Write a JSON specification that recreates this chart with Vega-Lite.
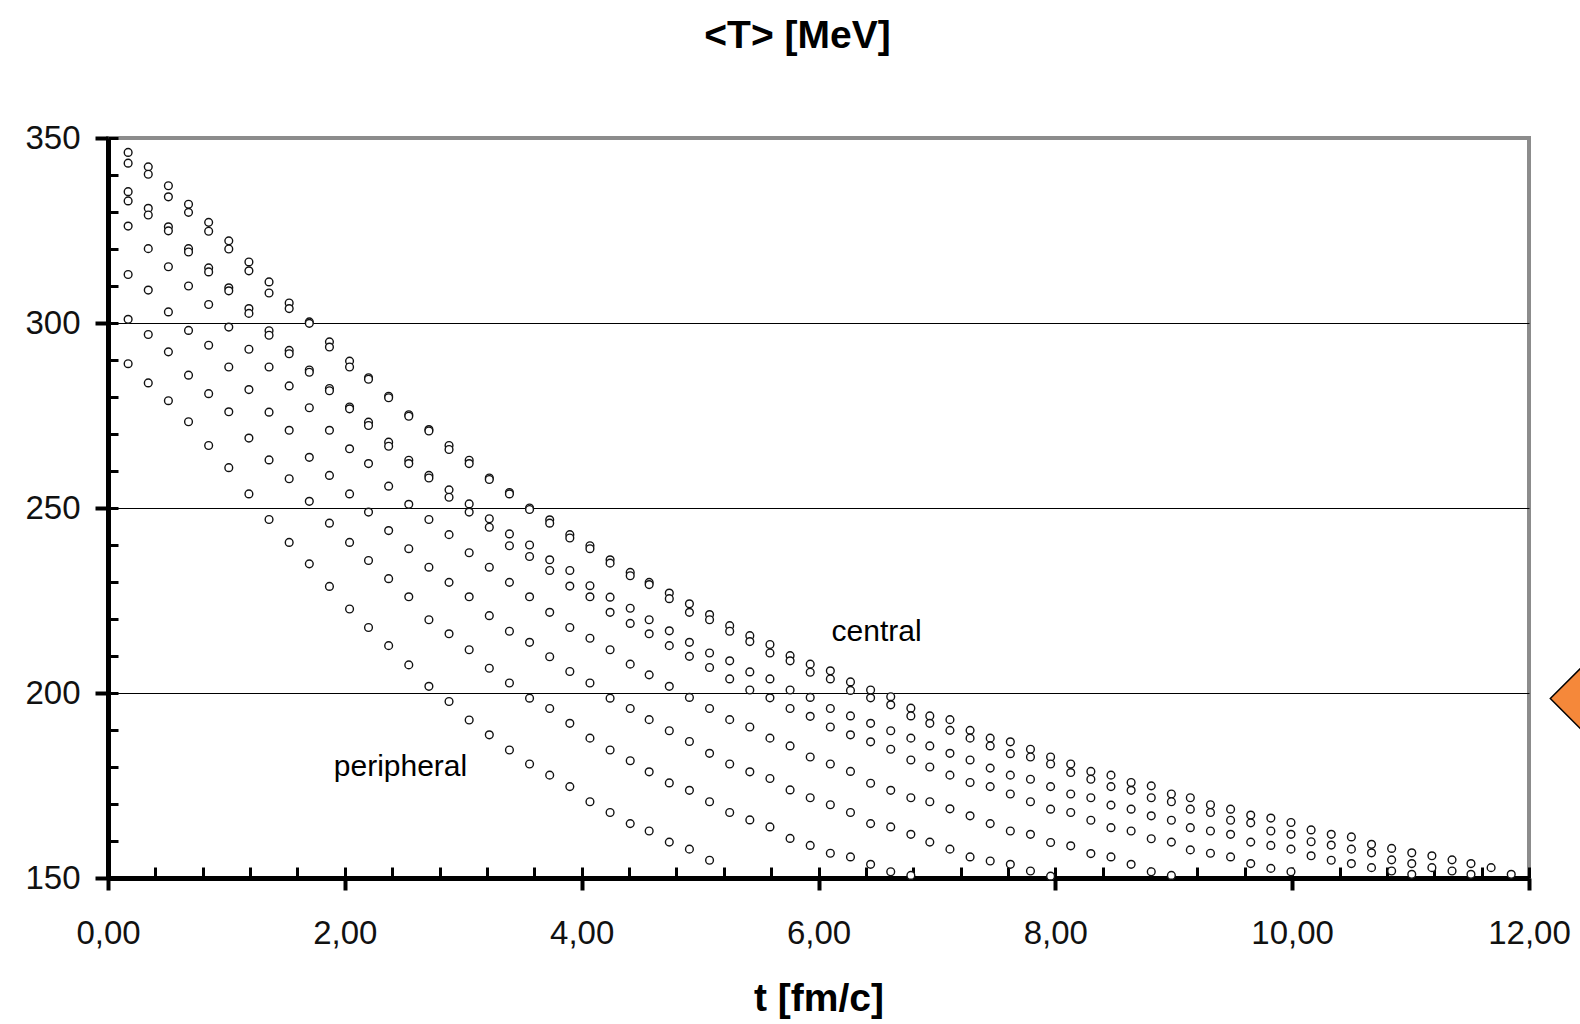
{
"$schema":"https://vega.github.io/schema/vega-lite/v6.json",
"width":1421,"height":740,
"autosize":{"type":"none"},
"padding":{"left":108,"top":138,"right":51,"bottom":146},
"background":"white",
"config":{"view":{"stroke":"#8c8c8c","strokeWidth":4},"font":"Liberation Sans"},
"title":{"text":"<T> [MeV]","font":"Liberation Sans","fontSize":39,"fontWeight":"bold","color":"#000","anchor":"middle","dx":-21,"offset":35,"baseline":"alphabetic"},
"datasets":{
"pts":[
{"t":0.17,"T":346.1},{"t":0.17,"T":343.2},{"t":0.17,"T":335.5},{"t":0.17,"T":333.0},{"t":0.17,"T":326.2},{"t":0.17,"T":313.1},{"t":0.17,"T":301.0},{"t":0.17,"T":289.0},
{"t":0.34,"T":342.2},{"t":0.34,"T":340.2},{"t":0.34,"T":331.0},{"t":0.34,"T":329.2},{"t":0.34,"T":320.1},{"t":0.34,"T":308.9},{"t":0.34,"T":296.9},{"t":0.34,"T":283.8},
{"t":0.51,"T":337.1},{"t":0.51,"T":334.1},{"t":0.51,"T":326.0},{"t":0.51,"T":324.9},{"t":0.51,"T":315.2},{"t":0.51,"T":303.0},{"t":0.51,"T":292.2},{"t":0.51,"T":279.0},
{"t":0.68,"T":332.1},{"t":0.68,"T":329.9},{"t":0.68,"T":320.1},{"t":0.68,"T":319.2},{"t":0.68,"T":310.0},{"t":0.68,"T":298.0},{"t":0.68,"T":285.9},{"t":0.68,"T":273.3},
{"t":0.85,"T":327.2},{"t":0.85,"T":324.8},{"t":0.85,"T":314.9},{"t":0.85,"T":313.8},{"t":0.85,"T":305.0},{"t":0.85,"T":294.0},{"t":0.85,"T":280.9},{"t":0.85,"T":266.9},
{"t":1.02,"T":322.2},{"t":1.02,"T":320.0},{"t":1.02,"T":309.5},{"t":1.02,"T":308.7},{"t":1.02,"T":298.9},{"t":1.02,"T":288.1},{"t":1.02,"T":276.0},{"t":1.02,"T":260.9},
{"t":1.19,"T":316.5},{"t":1.19,"T":314.1},{"t":1.19,"T":303.9},{"t":1.19,"T":302.6},{"t":1.19,"T":292.9},{"t":1.19,"T":282.0},{"t":1.19,"T":268.9},{"t":1.19,"T":253.8},
{"t":1.36,"T":311.1},{"t":1.36,"T":308.1},{"t":1.36,"T":297.9},{"t":1.36,"T":296.7},{"t":1.36,"T":288.1},{"t":1.36,"T":275.9},{"t":1.36,"T":263.0},{"t":1.36,"T":246.9},
{"t":1.53,"T":305.4},{"t":1.53,"T":303.9},{"t":1.53,"T":292.6},{"t":1.53,"T":291.7},{"t":1.53,"T":283.0},{"t":1.53,"T":271.0},{"t":1.53,"T":257.9},{"t":1.53,"T":240.7},
{"t":1.70,"T":300.3},{"t":1.70,"T":299.9},{"t":1.70,"T":287.3},{"t":1.70,"T":286.7},{"t":1.70,"T":277.1},{"t":1.70,"T":263.7},{"t":1.70,"T":251.8},{"t":1.70,"T":234.9},
{"t":1.87,"T":294.9},{"t":1.87,"T":293.5},{"t":1.87,"T":282.3},{"t":1.87,"T":281.7},{"t":1.87,"T":271.0},{"t":1.87,"T":258.8},{"t":1.87,"T":245.9},{"t":1.87,"T":228.8},
{"t":2.04,"T":289.7},{"t":2.04,"T":288.1},{"t":2.04,"T":277.3},{"t":2.04,"T":276.8},{"t":2.04,"T":266.0},{"t":2.04,"T":253.8},{"t":2.04,"T":240.7},{"t":2.04,"T":222.7},
{"t":2.20,"T":285.2},{"t":2.20,"T":284.8},{"t":2.20,"T":273.2},{"t":2.20,"T":272.3},{"t":2.20,"T":262.0},{"t":2.20,"T":248.9},{"t":2.20,"T":235.8},{"t":2.20,"T":217.7},
{"t":2.37,"T":280.2},{"t":2.37,"T":279.8},{"t":2.37,"T":267.8},{"t":2.37,"T":266.7},{"t":2.37,"T":255.9},{"t":2.37,"T":243.9},{"t":2.37,"T":230.9},{"t":2.37,"T":212.8},
{"t":2.54,"T":275.2},{"t":2.54,"T":274.8},{"t":2.54,"T":262.9},{"t":2.54,"T":262.0},{"t":2.54,"T":251.0},{"t":2.54,"T":239.0},{"t":2.54,"T":226.0},{"t":2.54,"T":207.6},
{"t":2.71,"T":271.2},{"t":2.71,"T":270.8},{"t":2.71,"T":258.8},{"t":2.71,"T":258.1},{"t":2.71,"T":246.9},{"t":2.71,"T":234.0},{"t":2.71,"T":219.8},{"t":2.71,"T":201.8},
{"t":2.88,"T":266.9},{"t":2.88,"T":265.8},{"t":2.88,"T":254.9},{"t":2.88,"T":252.9},{"t":2.88,"T":242.8},{"t":2.88,"T":229.9},{"t":2.88,"T":216.0},{"t":2.88,"T":197.7},
{"t":3.05,"T":262.9},{"t":3.05,"T":262.0},{"t":3.05,"T":251.1},{"t":3.05,"T":248.9},{"t":3.05,"T":237.9},{"t":3.05,"T":226.0},{"t":3.05,"T":211.7},{"t":3.05,"T":192.7},
{"t":3.22,"T":258.1},{"t":3.22,"T":257.7},{"t":3.22,"T":247.1},{"t":3.22,"T":244.8},{"t":3.22,"T":234.0},{"t":3.22,"T":220.9},{"t":3.22,"T":206.7},{"t":3.22,"T":188.7},
{"t":3.39,"T":254.2},{"t":3.39,"T":253.8},{"t":3.39,"T":243.0},{"t":3.39,"T":239.8},{"t":3.39,"T":229.9},{"t":3.39,"T":216.7},{"t":3.39,"T":202.7},{"t":3.39,"T":184.6},
{"t":3.56,"T":250.0},{"t":3.56,"T":249.6},{"t":3.56,"T":240.0},{"t":3.56,"T":236.9},{"t":3.56,"T":226.0},{"t":3.56,"T":213.7},{"t":3.56,"T":198.6},{"t":3.56,"T":180.8},
{"t":3.73,"T":246.8},{"t":3.73,"T":245.9},{"t":3.73,"T":236.0},{"t":3.73,"T":233.1},{"t":3.73,"T":221.8},{"t":3.73,"T":209.8},{"t":3.73,"T":195.8},{"t":3.73,"T":177.8},
{"t":3.90,"T":242.8},{"t":3.90,"T":241.9},{"t":3.90,"T":233.1},{"t":3.90,"T":228.9},{"t":3.90,"T":217.7},{"t":3.90,"T":205.8},{"t":3.90,"T":191.8},{"t":3.90,"T":174.7},
{"t":4.07,"T":239.8},{"t":4.07,"T":239.0},{"t":4.07,"T":229.0},{"t":4.07,"T":226.0},{"t":4.07,"T":214.8},{"t":4.07,"T":202.7},{"t":4.07,"T":187.8},{"t":4.07,"T":170.6},
{"t":4.24,"T":236.0},{"t":4.24,"T":235.1},{"t":4.24,"T":225.9},{"t":4.24,"T":221.8},{"t":4.24,"T":211.7},{"t":4.24,"T":198.6},{"t":4.24,"T":184.6},{"t":4.24,"T":167.7},
{"t":4.41,"T":232.6},{"t":4.41,"T":231.7},{"t":4.41,"T":222.9},{"t":4.41,"T":218.8},{"t":4.41,"T":207.8},{"t":4.41,"T":195.8},{"t":4.41,"T":181.7},{"t":4.41,"T":164.7},
{"t":4.57,"T":229.9},{"t":4.57,"T":229.3},{"t":4.57,"T":219.8},{"t":4.57,"T":216.0},{"t":4.57,"T":204.9},{"t":4.57,"T":192.8},{"t":4.57,"T":178.7},{"t":4.57,"T":162.7},
{"t":4.74,"T":227.0},{"t":4.74,"T":225.5},{"t":4.74,"T":216.8},{"t":4.74,"T":212.8},{"t":4.74,"T":201.8},{"t":4.74,"T":189.8},{"t":4.74,"T":175.7},{"t":4.74,"T":159.7},
{"t":4.91,"T":224.1},{"t":4.91,"T":221.8},{"t":4.91,"T":213.7},{"t":4.91,"T":209.9},{"t":4.91,"T":198.8},{"t":4.91,"T":186.9},{"t":4.91,"T":173.7},{"t":4.91,"T":157.8},
{"t":5.08,"T":221.2},{"t":5.08,"T":219.8},{"t":5.08,"T":210.8},{"t":5.08,"T":206.9},{"t":5.08,"T":195.8},{"t":5.08,"T":183.7},{"t":5.08,"T":170.6},{"t":5.08,"T":154.8},
{"t":5.25,"T":218.2},{"t":5.25,"T":216.7},{"t":5.25,"T":208.7},{"t":5.25,"T":203.8},{"t":5.25,"T":192.8},{"t":5.25,"T":180.8},{"t":5.25,"T":167.7},
{"t":5.42,"T":215.5},{"t":5.42,"T":213.9},{"t":5.42,"T":205.7},{"t":5.42,"T":200.8},{"t":5.42,"T":190.8},{"t":5.42,"T":178.7},{"t":5.42,"T":165.7},
{"t":5.59,"T":213.1},{"t":5.59,"T":210.8},{"t":5.59,"T":203.8},{"t":5.59,"T":198.7},{"t":5.59,"T":187.8},{"t":5.59,"T":176.9},{"t":5.59,"T":163.8},
{"t":5.76,"T":210.1},{"t":5.76,"T":208.7},{"t":5.76,"T":200.8},{"t":5.76,"T":195.8},{"t":5.76,"T":185.7},{"t":5.76,"T":173.8},{"t":5.76,"T":160.7},
{"t":5.93,"T":207.8},{"t":5.93,"T":205.6},{"t":5.93,"T":198.8},{"t":5.93,"T":193.7},{"t":5.93,"T":182.7},{"t":5.93,"T":171.7},{"t":5.93,"T":158.8},
{"t":6.10,"T":206.0},{"t":6.10,"T":203.8},{"t":6.10,"T":195.8},{"t":6.10,"T":190.8},{"t":6.10,"T":180.8},{"t":6.10,"T":169.8},{"t":6.10,"T":156.7},
{"t":6.27,"T":203.0},{"t":6.27,"T":200.7},{"t":6.27,"T":193.8},{"t":6.27,"T":188.7},{"t":6.27,"T":178.8},{"t":6.27,"T":167.7},{"t":6.27,"T":155.7},
{"t":6.44,"T":200.8},{"t":6.44,"T":198.7},{"t":6.44,"T":191.8},{"t":6.44,"T":186.8},{"t":6.44,"T":175.6},{"t":6.44,"T":164.7},{"t":6.44,"T":153.7},
{"t":6.61,"T":199.0},{"t":6.61,"T":196.8},{"t":6.61,"T":189.8},{"t":6.61,"T":184.8},{"t":6.61,"T":173.7},{"t":6.61,"T":163.8},{"t":6.61,"T":151.7},
{"t":6.78,"T":195.9},{"t":6.78,"T":193.8},{"t":6.78,"T":187.8},{"t":6.78,"T":181.9},{"t":6.78,"T":171.7},{"t":6.78,"T":161.8},{"t":6.78,"T":150.7},
{"t":6.94,"T":193.8},{"t":6.94,"T":191.8},{"t":6.94,"T":185.7},{"t":6.94,"T":180.0},{"t":6.94,"T":170.6},{"t":6.94,"T":159.7},
{"t":7.11,"T":192.8},{"t":7.11,"T":189.9},{"t":7.11,"T":183.7},{"t":7.11,"T":177.8},{"t":7.11,"T":168.7},{"t":7.11,"T":157.8},
{"t":7.28,"T":189.9},{"t":7.28,"T":187.8},{"t":7.28,"T":181.9},{"t":7.28,"T":175.8},{"t":7.28,"T":166.8},{"t":7.28,"T":155.7},
{"t":7.45,"T":187.8},{"t":7.45,"T":185.7},{"t":7.45,"T":179.7},{"t":7.45,"T":174.7},{"t":7.45,"T":164.7},{"t":7.45,"T":154.6},
{"t":7.62,"T":186.8},{"t":7.62,"T":183.6},{"t":7.62,"T":177.8},{"t":7.62,"T":172.7},{"t":7.62,"T":162.7},{"t":7.62,"T":153.7},
{"t":7.79,"T":184.8},{"t":7.79,"T":182.7},{"t":7.79,"T":176.7},{"t":7.79,"T":170.6},{"t":7.79,"T":161.8},{"t":7.79,"T":151.9},
{"t":7.96,"T":182.7},{"t":7.96,"T":180.8},{"t":7.96,"T":174.7},{"t":7.96,"T":168.6},{"t":7.96,"T":159.6},{"t":7.96,"T":150.5},
{"t":8.13,"T":180.8},{"t":8.13,"T":178.5},{"t":8.13,"T":172.7},{"t":8.13,"T":167.7},{"t":8.13,"T":158.7},
{"t":8.30,"T":178.8},{"t":8.30,"T":176.7},{"t":8.30,"T":171.7},{"t":8.30,"T":165.6},{"t":8.30,"T":156.6},
{"t":8.47,"T":177.8},{"t":8.47,"T":174.7},{"t":8.47,"T":169.7},{"t":8.47,"T":163.6},{"t":8.47,"T":155.7},
{"t":8.64,"T":175.8},{"t":8.64,"T":173.7},{"t":8.64,"T":168.6},{"t":8.64,"T":162.7},{"t":8.64,"T":153.7},
{"t":8.81,"T":174.9},{"t":8.81,"T":171.7},{"t":8.81,"T":166.8},{"t":8.81,"T":160.6},{"t":8.81,"T":151.7},
{"t":8.98,"T":172.7},{"t":8.98,"T":170.6},{"t":8.98,"T":165.6},{"t":8.98,"T":159.7},{"t":8.98,"T":150.7},
{"t":9.14,"T":171.7},{"t":9.14,"T":168.6},{"t":9.14,"T":163.6},{"t":9.14,"T":157.6},
{"t":9.31,"T":169.8},{"t":9.31,"T":167.7},{"t":9.31,"T":162.7},{"t":9.31,"T":156.7},
{"t":9.48,"T":168.6},{"t":9.48,"T":165.6},{"t":9.48,"T":161.8},{"t":9.48,"T":155.7},
{"t":9.65,"T":167.0},{"t":9.65,"T":164.9},{"t":9.65,"T":159.7},{"t":9.65,"T":153.9},
{"t":9.82,"T":166.2},{"t":9.82,"T":162.7},{"t":9.82,"T":158.8},{"t":9.82,"T":152.6},
{"t":9.99,"T":165.0},{"t":9.99,"T":161.8},{"t":9.99,"T":157.8},{"t":9.99,"T":151.7},
{"t":10.16,"T":163.0},{"t":10.16,"T":159.8},{"t":10.16,"T":156.0},
{"t":10.33,"T":161.8},{"t":10.33,"T":158.9},{"t":10.33,"T":154.8},
{"t":10.50,"T":161.1},{"t":10.50,"T":157.8},{"t":10.50,"T":153.9},
{"t":10.67,"T":159.1},{"t":10.67,"T":156.8},{"t":10.67,"T":152.8},
{"t":10.84,"T":158.0},{"t":10.84,"T":154.9},{"t":10.84,"T":151.9},
{"t":11.01,"T":156.8},{"t":11.01,"T":153.9},{"t":11.01,"T":151.0},
{"t":11.18,"T":156.0},{"t":11.18,"T":152.8},
{"t":11.35,"T":154.9},{"t":11.35,"T":151.9},
{"t":11.51,"T":153.9},{"t":11.51,"T":151.0},
{"t":11.68,"T":152.8},
{"t":11.85,"T":151.0}
],
"labels":[{"t":6.49,"T":216.6,"label":"central"},{"t":2.47,"T":179.9,"label":"peripheral"}],
"arrow":[{"t":12.18,"T":198.5}]
},
"layer":[
{
"data":{"name":"pts"},
"mark":{"type":"point","opacity":0},
"encoding":{
"x":{"field":"t","type":"quantitative","scale":{"domain":[0,12],"nice":false,"zero":false},
 "axis":{"orient":"bottom","values":[0,0.4,0.8,1.2,1.6,2,2.4,2.8,3.2,3.6,4,4.4,4.8,5.2,5.6,6,6.4,6.8,7.2,7.6,8,8.4,8.8,9.2,9.6,10,10.4,10.8,11.2,11.6,12],
 "domain":false,"labels":false,"grid":false,"title":null,"ticks":true,"tickSize":-11,"tickWidth":3,"tickColor":"#000"}},
"y":{"field":"T","type":"quantitative","scale":{"domain":[150,350],"nice":false,"zero":false},
 "axis":{"orient":"left","values":[150,160,170,180,190,200,210,220,230,240,250,260,270,280,290,300,310,320,330,340,350],
 "domain":false,"labels":false,"title":null,"ticks":true,"tickSize":-10,"tickWidth":3,"tickColor":"#000",
 "grid":true,"gridColor":"#000","gridWidth":1.2,
 "gridOpacity":{"condition":{"test":"datum.value == 200 || datum.value == 250 || datum.value == 300","value":1},"value":0}}}
}
},
{
"data":{"name":"pts"},
"mark":{"type":"point","shape":"circle","filled":true,"fill":"white","stroke":"#111","strokeWidth":1.4,"size":60,"opacity":1},
"encoding":{
"x":{"field":"t","type":"quantitative","scale":{"domain":[0,12],"nice":false,"zero":false},
 "axis":{"orient":"bottom","values":[0,2,4,6,8,10,12],"grid":false,"domain":true,"domainColor":"#000","domainWidth":5,
 "ticks":true,"tickSize":12,"tickWidth":4,"tickColor":"#000",
 "labelExpr":"replace(format(datum.value, '.2f'), '.', ',')","labelFont":"Liberation Sans","labelFontSize":33,"labelColor":"#111","labelPadding":27,"labelFlush":false,"labelOverlap":false,
 "title":"t [fm/c]","titleFont":"Liberation Sans","titleFontSize":39,"titleFontWeight":"bold","titleColor":"#000","titleBaseline":"alphabetic","titleY":132}},
"y":{"field":"T","type":"quantitative","scale":{"domain":[150,350],"nice":false,"zero":false},
 "axis":{"orient":"left","values":[150,200,250,300,350],"grid":false,"domain":true,"domainColor":"#000","domainWidth":5,
 "ticks":true,"tickSize":13,"tickWidth":4,"tickColor":"#000",
 "labelFont":"Liberation Sans","labelFontSize":33,"labelColor":"#111","labelPadding":15,"labelOverlap":false,"title":null}}
}
},
{
"data":{"name":"labels"},
"mark":{"type":"text","font":"Liberation Sans","fontSize":30,"color":"#000","align":"center","baseline":"middle"},
"encoding":{
"x":{"field":"t","type":"quantitative","scale":{"domain":[0,12],"nice":false,"zero":false},"axis":null},
"y":{"field":"T","type":"quantitative","scale":{"domain":[150,350],"nice":false,"zero":false},"axis":null},
"text":{"field":"label"}
}
},
{
"data":{"name":"arrow"},
"mark":{"type":"point","shape":"M0,0L2,-2L2,2Z","size":1600,"filled":true,"fill":"#F5883A","stroke":"#000","strokeWidth":1.5,"opacity":1},
"encoding":{
"x":{"field":"t","type":"quantitative","scale":{"domain":[0,12],"nice":false,"zero":false},"axis":null},
"y":{"field":"T","type":"quantitative","scale":{"domain":[150,350],"nice":false,"zero":false},"axis":null}
}
}
],
"resolve":{"axis":{"x":"independent","y":"independent"}}
}
